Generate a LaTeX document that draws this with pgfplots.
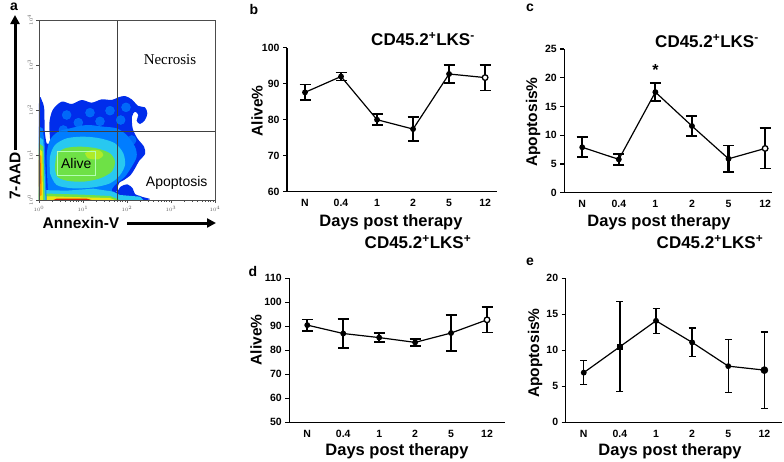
\documentclass[border=0pt]{standalone}
\usepackage{pgfplots}
\pgfplotsset{compat=1.18}
\usepackage{fontspec}
\setmainfont{Liberation Sans}
\newfontfamily\seriffont{Liberation Serif}
\usetikzlibrary{arrows.meta}
\definecolor{jblue}{RGB}{0,45,235}
\definecolor{jlblue}{RGB}{0,125,255}
\definecolor{jcyan}{RGB}{40,200,240}
\definecolor{jgreen}{RGB}{110,225,70}
\definecolor{jygreen}{RGB}{175,235,40}
\definecolor{jyellow}{RGB}{235,230,20}
\definecolor{jorange}{RGB}{250,150,0}
\definecolor{jred}{RGB}{215,30,0}
\pgfplotsset{
  linepanel/.style={
    scale only axis, axis lines=left,
    axis line style={line width=1.3pt,-},
    xtick={0,1,2,3,4,5}, xticklabels={N,0.4,1,2,5,12},
    xtick style={draw=none},
    ytick style={line width=1.2pt, black},
    tick align=outside, major tick length=4pt,
    ticklabel style={font=\fontsize{10.5}{12}\selectfont\bfseries},
    /pgf/number format/assume math mode=true,
    clip=false,
  },
  dataline/.style={black, line width=1.2pt, mark=*, mark size=2.3pt,
    error bars/.cd, y dir=both, y explicit,
    error bar style={line width=2.2pt},
    error mark options={rotate=90, mark size=5.5pt, line width=1.8pt}},
  thinline/.style={black, line width=1.2pt, mark=*, mark size=2.3pt,
    error bars/.cd, y dir=both, y explicit,
    error bar style={line width=1.4pt},
    error mark options={rotate=90, mark size=3.5pt, line width=1.3pt}},
  blob/.style={draw=none, fill=#1, smooth, tension=0.5, forget plot},
  strip/.style={draw=none, fill=#1, sharp plot, forget plot},
}
\pgfplotstableread{
x y e
0 87.6 2.2
1 92.0 1.1
2 80.0 1.5
3 77.4 3.3
4 92.7 2.5
5 91.7 3.6
}\tabB
\pgfplotstableread{
x y e
0 7.9 1.75
1 5.8 1.0
2 17.5 1.6
3 11.6 1.7
4 5.9 2.3
5 7.7 3.5
}\tabC
\pgfplotstableread{
x y e
0 90.5 2.3
1 87.0 6.2
2 85.3 2.0
3 83.3 1.4
4 87.2 7.6
5 92.7 5.3
}\tabD
\pgfplotstableread{
x y e
0 6.9 1.65
1 10.5 6.25
2 14.1 1.75
3 11.1 2.0
4 7.8 3.7
5 7.25 5.3
}\tabE
\begin{document}
\begin{tikzpicture}
\path[use as bounding box] (0,0) rectangle (784pt,-461pt);

% ---------- panel a ----------
\begin{axis}[at={(39pt,-200pt)}, anchor=south west, scale only axis,
  width=176pt, height=180pt, xmin=117, xmax=645, ymin=0, ymax=540,
  axis line style={gray!60!black, line width=0.8pt},
  xtick={117,249,381,513,645},
  xticklabels={$10^{0}$,$10^{1}$,$10^{2}$,$10^{3}$,$10^{4}$},
  minor xtick={156.7,180,196.5,209.3,219.7,228.5,236.2,243,
    288.7,312,328.5,341.3,351.7,360.5,368.2,375,
    420.7,444,460.5,473.3,483.7,492.5,500.2,507,
    552.7,576,592.5,605.3,615.7,624.5,632.2,639},
  ytick={0,135,270,405,540},
  yticklabels={$10^{0}$,$10^{1}$,$10^{2}$,$10^{3}$,$10^{4}$},
  xtick pos=bottom, ytick pos=left,
  tick align=outside, major tick length=2.5pt, minor tick length=1.5pt,
  tick style={gray!60!black, line width=0.5pt},
  ticklabel style={font=\fontsize{5}{6}\selectfont, text=gray!70!black},
  yticklabel style={rotate=90, anchor=south},
  axis on top]
\addplot[blob=jblue] coordinates {(117,0) (117,290) (127,295) (133,270) (134,210) (140,170) (150,175) (148,230) (158,270) (185,295) (215,288) (245,300) (275,292) (305,302) (335,300) (355,308) (375,312) (395,302) (415,282) (435,278) (442,260) (435,240) (420,228) (410,238) (415,255) (405,265) (396,250) (398,215) (412,185) (432,160) (435,138) (418,118) (405,95) (392,75) (372,60) (358,52) (352,35) (350,22) (362,40) (382,47) (398,35) (405,18) (425,10) (432,0) (117,0)};
\addplot[only marks, mark=*, mark size=4.5pt, jlblue, opacity=0.75, forget plot] coordinates {(200,255) (270,262) (330,268) (378,278) (235,232) (300,236) (362,240) (395,180) (190,210)};
\addplot[blob=jlblue] coordinates {(145,0) (140,130) (150,180) (175,205) (210,215) (260,225) (310,220) (350,215) (380,195) (405,160) (410,130) (395,100) (375,70) (350,50) (335,30) (345,15) (360,5) (365,0) (145,0)};
\addplot[blob=jcyan] coordinates {(150,80) (150,130) (165,165) (200,185) (250,190) (300,185) (345,170) (370,140) (375,105) (360,75) (330,50) (280,38) (220,35) (170,45) (150,80)};
\addplot[blob=jgreen] coordinates {(165,95) (170,135) (195,155) (240,160) (290,155) (330,140) (345,115) (335,85) (300,65) (250,55) (200,58) (172,70) (165,95)};
\addplot[blob=jygreen] coordinates {(255,140) (275,150) (300,148) (310,135) (295,122) (265,125) (255,140)};
\addplot[strip=jcyan] coordinates {(117,0) (117,30) (200,28) (280,34) (340,25) (360,15) (420,10) (430,0)};
\addplot[strip=jgreen] coordinates {(117,0) (117,20) (250,16) (330,12) (360,0)};
\addplot[strip=jyellow] coordinates {(117,0) (117,12) (250,8) (330,6) (345,0)};
\addplot[strip=jred] coordinates {(160,0) (170,4) (260,4) (275,0)};
\addplot[strip=jlblue] coordinates {(117,0) (117,220) (128,215) (134,170) (140,0)};
\addplot[strip=jcyan] coordinates {(117,0) (117,190) (130,180) (137,0)};
\addplot[strip=jgreen] coordinates {(117,0) (117,170) (130,160) (134,0)};
\addplot[strip=jyellow] coordinates {(117,0) (117,155) (127,145) (129,0)};
\addplot[strip=jorange] coordinates {(117,10) (117,140) (124,130) (125,15)};
\addplot[strip=jred] coordinates {(117,40) (117,120) (121,110) (121,50)};
\addplot[gray!50!black, line width=0.7pt, forget plot] coordinates {(352,0) (352,540)};
\addplot[gray!50!black, line width=0.7pt, forget plot] coordinates {(117,205) (645,205)};
\draw[green!30!white, line width=0.6pt] (axis cs:172,75) rectangle (axis cs:287,145);
\node[font=\fontsize{14}{16}\selectfont] at (axis cs:229,110) {Alive};
\node[font=\seriffont\fontsize{15}{17}\selectfont] at (axis cs:510,420) {Necrosis};
\node[font=\fontsize{14}{16}\selectfont] at (axis cs:530,50) {Apoptosis};
\end{axis}
\node[font=\fontsize{14}{16}\selectfont\bfseries] at (14pt,-7pt) {a};
\draw[line width=3pt, -{Triangle[length=9pt,width=9pt]}] (15pt,-150pt) -- (15pt,-15pt);
\node[rotate=90, font=\fontsize{15.5}{17}\selectfont\bfseries] at (15pt,-176pt) {7-AAD};
\node[font=\fontsize{15.5}{17}\selectfont\bfseries] at (81pt,-223pt) {Annexin-V};
\draw[line width=3pt, -{Triangle[length=9pt,width=9pt]}] (127pt,-223pt) -- (216pt,-223pt);

% ---------- panel b ----------
\begin{axis}[linepanel, at={(287pt,-191.7pt)}, anchor=south west,
  width=210pt, height=144pt, xmin=-0.5, xmax=5.33, ymin=60, ymax=100,
  ytick={60,70,80,90,100}]
\addplot[dataline] table[x=x, y=y, y error=e] {\tabB};
\addplot[only marks, mark=*, mark size=2.8pt, mark options={fill=white, draw=black, line width=1.3pt}] coordinates {(5,91.7)};
\end{axis}
\node[font=\fontsize{14}{16}\selectfont\bfseries] at (254pt,-9pt) {b};
\node[font=\fontsize{17}{19}\selectfont\bfseries] at (423pt,-39pt) {CD45.2\textsuperscript{+}LKS\textsuperscript{-}};
\node[rotate=90, font=\fontsize{15.5}{17}\selectfont\bfseries] at (257pt,-111pt) {Alive\%};
\node[font=\fontsize{16.5}{18}\selectfont\bfseries] at (391pt,-222pt) {Days post therapy};

% ---------- panel c ----------
\begin{axis}[linepanel, at={(564.3pt,-192.7pt)}, anchor=south west,
  width=207.4pt, height=143.7pt, xmin=-0.49, xmax=5.18, ymin=0, ymax=25,
  ytick={0,5,10,15,20,25}]
\addplot[dataline] table[x=x, y=y, y error=e] {\tabC};
\addplot[only marks, mark=*, mark size=2.8pt, mark options={fill=white, draw=black, line width=1.3pt}] coordinates {(5,7.7)};
\node[font=\fontsize{16}{18}\selectfont\bfseries] at (axis cs:2,21.3) {*};
\end{axis}
\node[font=\fontsize{14}{16}\selectfont\bfseries] at (530pt,-8pt) {c};
\node[font=\fontsize{17}{19}\selectfont\bfseries] at (707pt,-41pt) {CD45.2\textsuperscript{+}LKS\textsuperscript{-}};
\node[rotate=90, font=\fontsize{15.5}{17}\selectfont\bfseries] at (533pt,-122pt) {Apoptosis\%};
\node[font=\fontsize{16.5}{18}\selectfont\bfseries] at (659pt,-222pt) {Days post therapy};

% ---------- panel d ----------
\begin{axis}[linepanel, at={(289.3pt,-422.3pt)}, anchor=south west,
  width=215.7pt, height=144pt, xmin=-0.5, xmax=5.5, ymin=50, ymax=110,
  ytick={50,60,70,80,90,100,110}]
\addplot[dataline] table[x=x, y=y, y error=e] {\tabD};
\addplot[only marks, mark=*, mark size=2.8pt, mark options={fill=white, draw=black, line width=1.3pt}] coordinates {(5,92.7)};
\end{axis}
\node[font=\fontsize{14}{16}\selectfont\bfseries] at (253pt,-271pt) {d};
\node[font=\fontsize{17}{19}\selectfont\bfseries] at (418pt,-242pt) {CD45.2\textsuperscript{+}LKS\textsuperscript{+}};
\node[rotate=90, font=\fontsize{15.5}{17}\selectfont\bfseries] at (256pt,-340pt) {Alive\%};
\node[font=\fontsize{16.5}{18}\selectfont\bfseries] at (397pt,-451pt) {Days post therapy};

% ---------- panel e ----------
\begin{axis}[linepanel, at={(565.7pt,-422.3pt)}, anchor=south west,
  width=216pt, height=144pt, xmin=-0.5, xmax=5.48, ymin=0, ymax=20,
  ytick={0,5,10,15,20}]
\addplot[thinline] table[x=x, y=y, y error=e] {\tabE};
\addplot[only marks, mark=square*, mark size=2.6pt, black] coordinates {(1,10.5)};
\addplot[only marks, mark=*, mark size=3.6pt, black] coordinates {(5,7.25)};
\end{axis}
\node[font=\fontsize{14}{16}\selectfont\bfseries] at (530pt,-262pt) {e};
\node[font=\fontsize{17}{19}\selectfont\bfseries] at (710pt,-242pt) {CD45.2\textsuperscript{+}LKS\textsuperscript{+}};
\node[rotate=90, font=\fontsize{15.5}{17}\selectfont\bfseries] at (535pt,-353pt) {Apoptosis\%};
\node[font=\fontsize{16.5}{18}\selectfont\bfseries] at (670pt,-451pt) {Days post therapy};
\end{tikzpicture}
\end{document}
